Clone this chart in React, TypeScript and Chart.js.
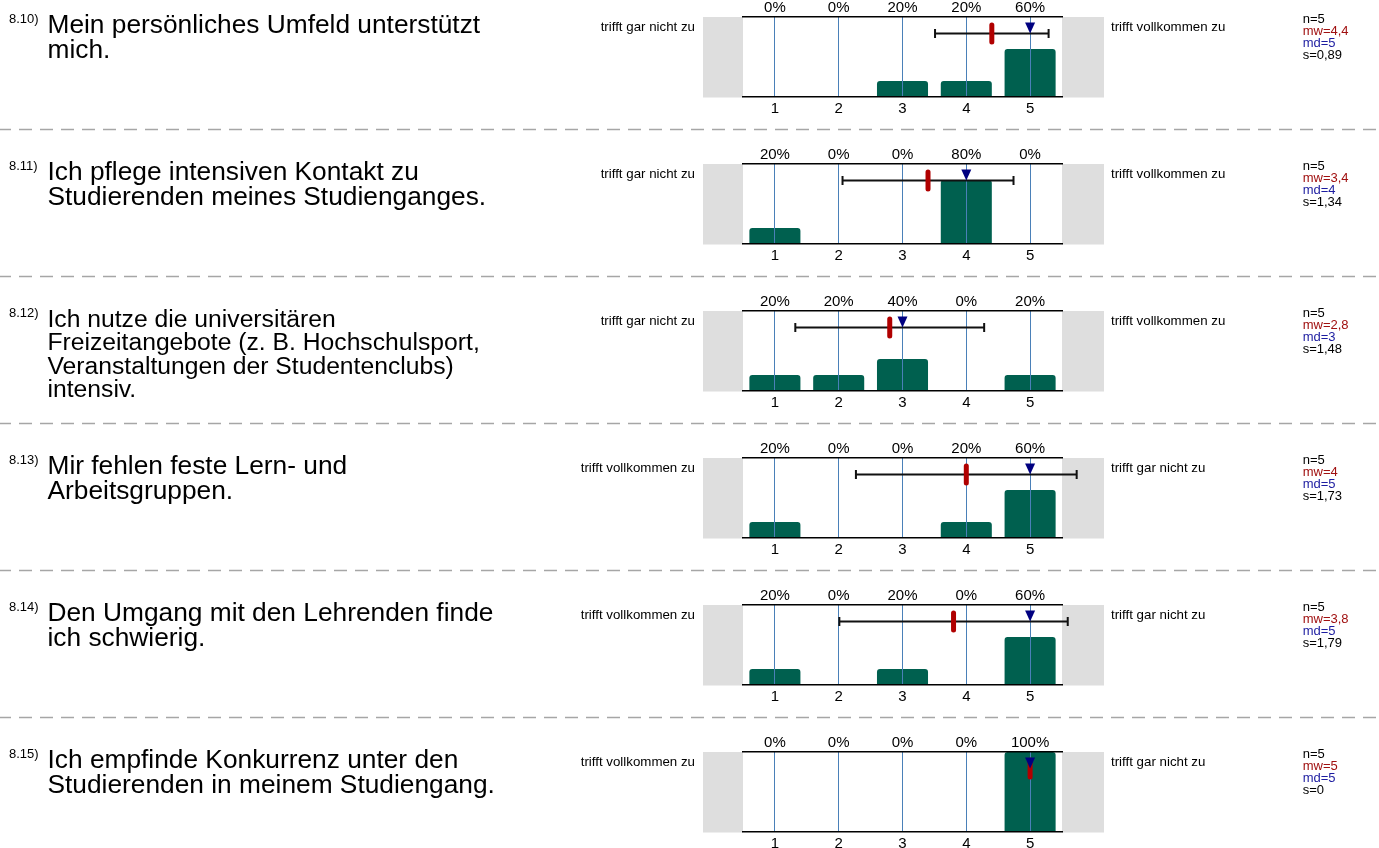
import React, { useEffect, useRef } from 'react';
import { Chart, registerables } from 'chart.js';

Chart.register(...registerables);

// ---------- data ----------
const questionNumbers = ['8.10)', '8.11)', '8.12)', '8.13)', '8.14)', '8.15)'];
const questionLines: string[][] = [
  ['Mein persönliches Umfeld unterstützt', 'mich.'],
  ['Ich pflege intensiven Kontakt zu', 'Studierenden meines Studienganges.'],
  ['Ich nutze die universitären', 'Freizeitangebote (z. B. Hochschulsport,', 'Veranstaltungen der Studentenclubs)', 'intensiv.'],
  ['Mir fehlen feste Lern- und', 'Arbeitsgruppen.'],
  ['Den Umgang mit den Lehrenden finde', 'ich schwierig.'],
  ['Ich empfinde Konkurrenz unter den', 'Studierenden in meinem Studiengang.'],
];
const scaleCategories = ['1', '2', '3', '4', '5'];
const percentages: number[][] = [
  [0, 0, 20, 20, 60],
  [20, 0, 0, 80, 0],
  [20, 20, 40, 0, 20],
  [20, 0, 0, 20, 60],
  [20, 0, 20, 0, 60],
  [0, 0, 0, 0, 100],
];
const counts = [5, 5, 5, 5, 5, 5];
const means = [4.4, 3.4, 2.8, 4, 3.8, 5];
const medians = [5, 4, 3, 5, 5, 5];
const stdDevs = [0.89, 1.34, 1.48, 1.73, 1.79, 0];
const leftPoles = ['trifft gar nicht zu', 'trifft gar nicht zu', 'trifft gar nicht zu', 'trifft vollkommen zu', 'trifft vollkommen zu', 'trifft vollkommen zu'];
const rightPoles = ['trifft vollkommen zu', 'trifft vollkommen zu', 'trifft vollkommen zu', 'trifft gar nicht zu', 'trifft gar nicht zu', 'trifft gar nicht zu'];

// ---------- layout / style ----------
const W = 1379;
const H = 848;
const ROW_STEP = 146.94;
const ROW_H = 147;
const F = 17; // frame top inside a row
const FRAME_BOTTOM = 97;
const PLOT_L = 743;
const PLOT_R = 1062;
const FONT = "'Liberation Sans', Arial, Helvetica, sans-serif";
const BAR = '#00604f';
const GRID = '#4a80b8';
const GREY_BOX = '#dedede';
const RED = '#b00000';
const NAVY = '#000080';
const MW_COLOR = '#a01010';
const MD_COLOR = '#1c1ca0';

const fmt = (v: number) => String(v).replace('.', ',');

// top offset of a line box so that its first baseline is at `baseline`
const topFor = (baseline: number, fs: number, lh: number) => baseline - ((lh - 1.117 * fs) / 2 + 0.905 * fs);

function RowChart({ i }: { i: number }) {
  const ref = useRef<HTMLCanvasElement>(null);
  useEffect(() => {
    const canvas = ref.current!;
    const rowPlugin = {
      id: 'rowDecor' + i,
      beforeDraw(chart: any) {
        const { ctx, chartArea } = chart;
        const { top, bottom, left, right } = chartArea;
        ctx.save();
        ctx.fillStyle = GREY_BOX;
        ctx.fillRect(left - 40, top, 40, bottom - top + 0.5);
        ctx.fillRect(right, top, 42, bottom - top + 0.5);
        ctx.restore();
      },
      afterDraw(chart: any) {
        const { ctx, chartArea } = chart;
        const xs = chart.scales.x;
        const top = chartArea.top;
        const yW = top + 16.5;
        const mean = means[i];
        const sd = stdDevs[i];
        const med = medians[i];
        const px = (v: number) => xs.getPixelForValue(v - 1);
        ctx.save();
        // whisker mean ± s
        if (sd > 0) {
          const x1 = px(mean - sd);
          const x2 = px(mean + sd);
          ctx.strokeStyle = '#111';
          ctx.lineWidth = 2;
          ctx.beginPath();
          ctx.moveTo(x1, yW);
          ctx.lineTo(x2, yW);
          ctx.moveTo(x1, yW - 4.5);
          ctx.lineTo(x1, yW + 4.5);
          ctx.moveTo(x2, yW - 4.5);
          ctx.lineTo(x2, yW + 4.5);
          ctx.stroke();
        }
        // mean marker
        const xm = px(mean);
        ctx.fillStyle = RED;
        ctx.beginPath();
        (ctx as any).roundRect(xm - 2.5, yW - 11, 5, 22, 2.5);
        ctx.fill();
        // median triangle
        const xd = px(med);
        ctx.fillStyle = NAVY;
        ctx.beginPath();
        ctx.moveTo(xd - 5, top + 5.5);
        ctx.lineTo(xd + 5, top + 5.5);
        ctx.lineTo(xd, yW);
        ctx.closePath();
        ctx.fill();
        // separator
        if (i < percentages.length - 1) {
          ctx.strokeStyle = '#a6a6a6';
          ctx.lineWidth = 1.5;
          ctx.setLineDash([13, 8]);
          ctx.lineDashOffset = 2;
          ctx.beginPath();
          ctx.moveTo(0, F + 112.5);
          ctx.lineTo(W, F + 112.5);
          ctx.stroke();
        }
        ctx.restore();
      },
    };

    const tickFont = { family: FONT, size: 15 };
    const chart = new Chart(canvas, {
      type: 'bar',
      data: {
        labels: scaleCategories,
        datasets: [
          {
            data: percentages[i],
            backgroundColor: BAR,
            borderWidth: 0,
            borderRadius: { topLeft: 3, topRight: 3, bottomLeft: 0, bottomRight: 0 },
            borderSkipped: 'bottom',
            categoryPercentage: 1,
            barPercentage: 0.8,
            xAxisID: 'x',
            yAxisID: 'y',
          },
        ],
      },
      options: {
        responsive: false,
        maintainAspectRatio: false,
        animation: false,
        devicePixelRatio: 1,
        events: [],
        layout: { padding: { left: PLOT_L, right: W - PLOT_R, top: 0, bottom: 0 } },
        plugins: { legend: { display: false }, tooltip: { enabled: false }, title: { display: false } },
        scales: {
          x: {
            type: 'category',
            position: 'bottom',
            offset: true,
            grid: { offset: false, color: GRID, lineWidth: 1, drawTicks: false, z: 1 },
            border: { color: '#000', width: 1.5, z: 2 },
            ticks: { color: '#000', font: tickFont, padding: 3, autoSkip: false, maxRotation: 0 },
            afterFit: (s: any) => {
              s.height = ROW_H - FRAME_BOTTOM;
            },
          },
          xTop: {
            type: 'category',
            position: 'top',
            labels: percentages[i].map((v) => v + '%'),
            offset: true,
            grid: { display: false, drawTicks: false },
            border: { color: '#000', width: 1.5, z: 2 },
            ticks: { color: '#000', font: tickFont, padding: 0, autoSkip: false, maxRotation: 0 },
            afterFit: (s: any) => {
              s.height = F;
            },
          },
          y: { display: false, min: 0, max: 100 },
        },
      } as any,
      plugins: [rowPlugin],
    });
    return () => chart.destroy();
  }, [i]);
  return <canvas ref={ref} width={W} height={ROW_H} style={{ position: 'absolute', left: 0, top: 0, width: W, height: ROW_H }} />;
}

function Row({ i }: { i: number }) {
  const rowTop = Math.round(i * ROW_STEP);
  const long = questionLines[i].length > 2;
  const qFs = long ? 24.7 : 26.3;
  const qLh = long ? 23.4 : 25;
  const qBase = long ? F + 16.3 : F + 17;
  const sFs = 13;
  const sLh = 12;
  const pFs = 13.3;
  const pLh = 15;
  const abs = (extra: React.CSSProperties): React.CSSProperties => ({ position: 'absolute', whiteSpace: 'nowrap', margin: 0, ...extra });
  return (
    <div style={{ position: 'absolute', left: 0, top: rowTop, width: W, height: ROW_H }}>
      <RowChart i={i} />
      <div style={abs({ left: 9, top: topFor(F + 6.3, 13, 13), fontSize: 13, lineHeight: '13px' })}>{questionNumbers[i]}</div>
      <div style={abs({ left: 47.5, top: topFor(qBase, qFs, qLh), fontSize: qFs, lineHeight: qLh + 'px' })}>
        {questionLines[i].map((l, k) => (
          <div key={k}>{l}</div>
        ))}
      </div>
      <div style={abs({ right: W - 695, top: topFor(F + 13.7, pFs, pLh), fontSize: pFs, lineHeight: pLh + 'px', textAlign: 'right' })}>{leftPoles[i]}</div>
      <div style={abs({ left: 1111, top: topFor(F + 13.7, pFs, pLh), fontSize: pFs, lineHeight: pLh + 'px' })}>{rightPoles[i]}</div>
      <div style={abs({ left: 1302.7, top: topFor(F + 6.3, sFs, sLh), fontSize: sFs, lineHeight: sLh + 'px' })}>
        <div>n={counts[i]}</div>
        <div style={{ color: MW_COLOR }}>mw={fmt(means[i])}</div>
        <div style={{ color: MD_COLOR }}>md={fmt(medians[i])}</div>
        <div>s={fmt(stdDevs[i])}</div>
      </div>
    </div>
  );
}

export default function App() {
  return (
    <div
      style={{
        position: 'absolute',
        left: 0,
        top: 0,
        width: W,
        height: H,
        overflow: 'hidden',
        background: '#fff',
        color: '#000',
        fontFamily: FONT,
      }}
    >
      {percentages.map((_, i) => (
        <Row key={i} i={i} />
      ))}
    </div>
  );
}
